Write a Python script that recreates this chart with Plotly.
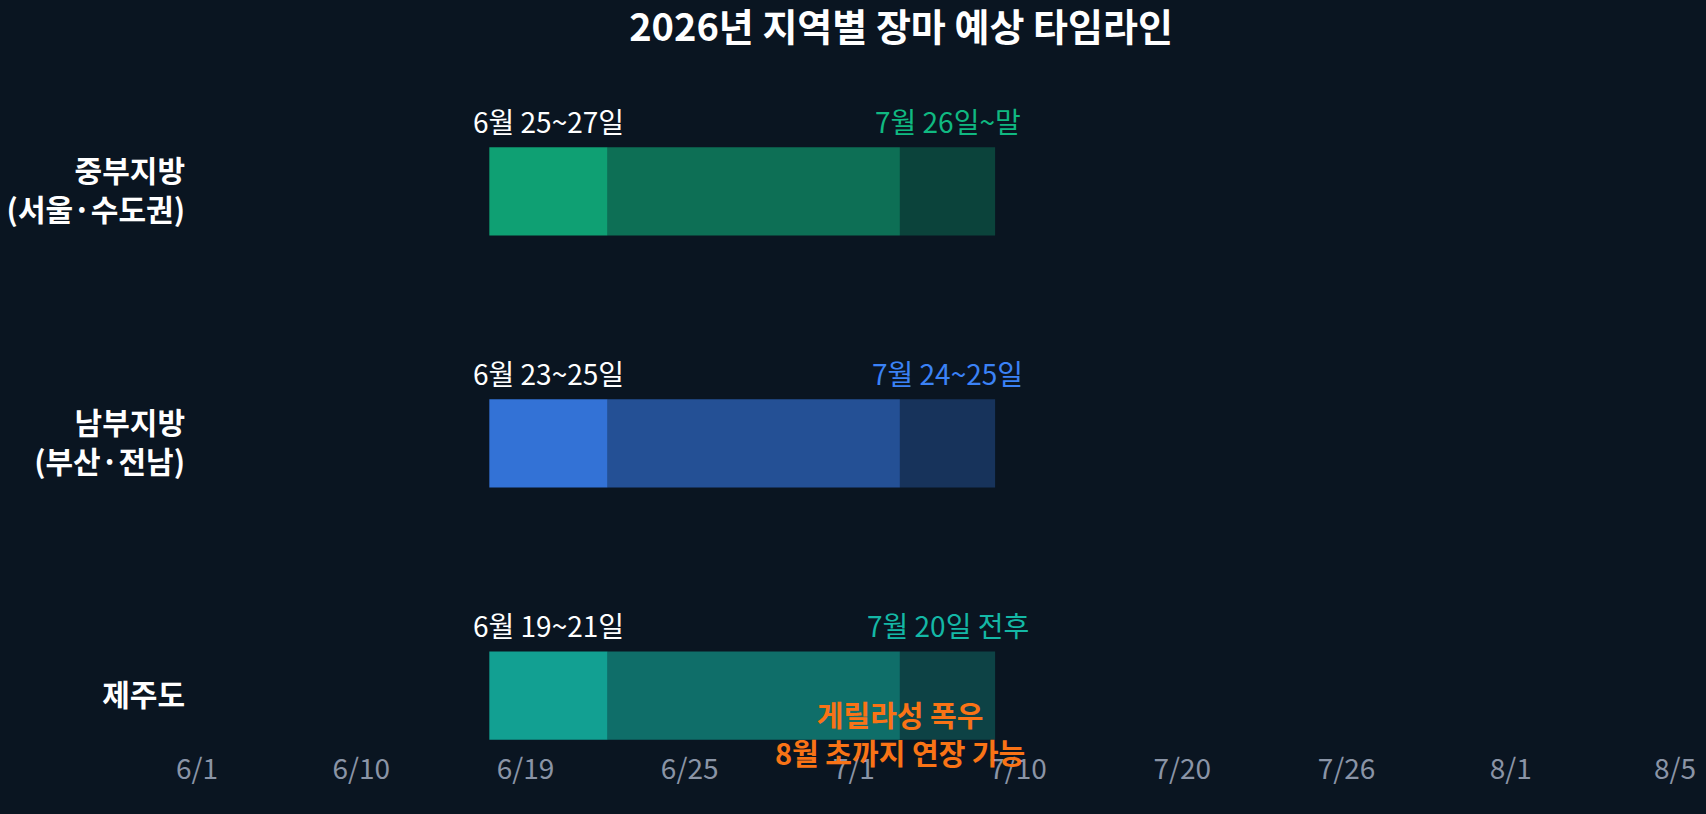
import plotly.graph_objects as go

# ---- data ----
regions = ["중부지방<br>(서울·수도권)", "남부지방<br>(부산·전남)", "제주도"]
region_pos = [0, 1, 2]
tick_labels = ["6/1", "6/10", "6/19", "6/25", "7/1", "7/10", "7/20", "7/26", "8/1", "8/5"]
tick_pos = list(range(len(tick_labels)))

onset_start = [1.78, 1.78, 1.78]
onset_end = [2.50, 2.50, 2.50]
end_start = [4.28, 4.28, 4.28]
end_end = [4.86, 4.86, 4.86]

onset_text = ["6월 25~27일", "6월 23~25일", "6월 19~21일"]
end_text = ["7월 26일~말", "7월 24~25일", "7월 20일 전후"]
region_colors = ["#10b981", "#3b82f6", "#14b8a6"]
note_text = "게릴라성 폭우<br>8월 초까지 연장 가능"

BG = "#0a1521"
FONT = "Noto Sans CJK KR"

fig = go.Figure()

segments = [
    (onset_start, onset_end, 0.85),
    (onset_end, end_start, 0.55),
    (end_start, end_end, 0.28),
]
for starts, ends, op in segments:
    for i in range(len(regions)):
        fig.add_trace(go.Bar(
            y=[region_pos[i]],
            x=[ends[i] - starts[i]],
            base=[starts[i]],
            orientation="h",
            width=0.35,
            marker=dict(color=region_colors[i], opacity=op, line=dict(width=0)),
            showlegend=False,
            hoverinfo="skip",
        ))

for i in range(len(regions)):
    fig.add_annotation(
        x=(onset_start[i] + onset_end[i]) / 2, y=region_pos[i] - 0.28,
        text=onset_text[i], showarrow=False,
        font=dict(family=FONT, size=28, color="#ffffff"),
        xanchor="center", yanchor="middle",
    )
    fig.add_annotation(
        x=(end_start[i] + end_end[i]) / 2, y=region_pos[i] - 0.28,
        text=end_text[i], showarrow=False,
        font=dict(family=FONT, size=28, color=region_colors[i]),
        xanchor="center", yanchor="middle",
    )

fig.add_annotation(
    x=end_start[2], y=region_pos[2] + 0.15,
    text=f"<b>{note_text}</b>", showarrow=False,
    font=dict(family=FONT, size=29, color="#f97316"),
    xanchor="center", yanchor="middle", align="center",
)

fig.update_layout(
    width=1706, height=814,
    paper_bgcolor=BG, plot_bgcolor=BG,
    barmode="overlay",
    margin=dict(l=197, r=31, t=40, b=68, autoexpand=False),
    title=dict(
        text="<b>2026년 지역별 장마 예상 타임라인</b>",
        x=901 / 1706, xref="container", xanchor="center",
        y=1 - 28 / 814, yref="container", yanchor="middle",
        font=dict(family=FONT, size=38, color="#ffffff"),
    ),
    xaxis=dict(
        range=[0, 9], tickvals=tick_pos, ticktext=tick_labels,
        showgrid=False, zeroline=False, showline=False,
        tickfont=dict(family=FONT, size=28, color="#8a94a6"),
        ticklabelstandoff=4,
        fixedrange=True,
    ),
    yaxis=dict(
        range=[2.2, -0.6], tickvals=region_pos,
        ticktext=[f"<b>{r}</b>" for r in regions],
        showgrid=False, zeroline=False, showline=False,
        tickfont=dict(family=FONT, size=30, color="#ffffff"),
        ticklabelstandoff=11,
        fixedrange=True,
    ),
    font=dict(family=FONT),
)

fig.write_html("out.html")
